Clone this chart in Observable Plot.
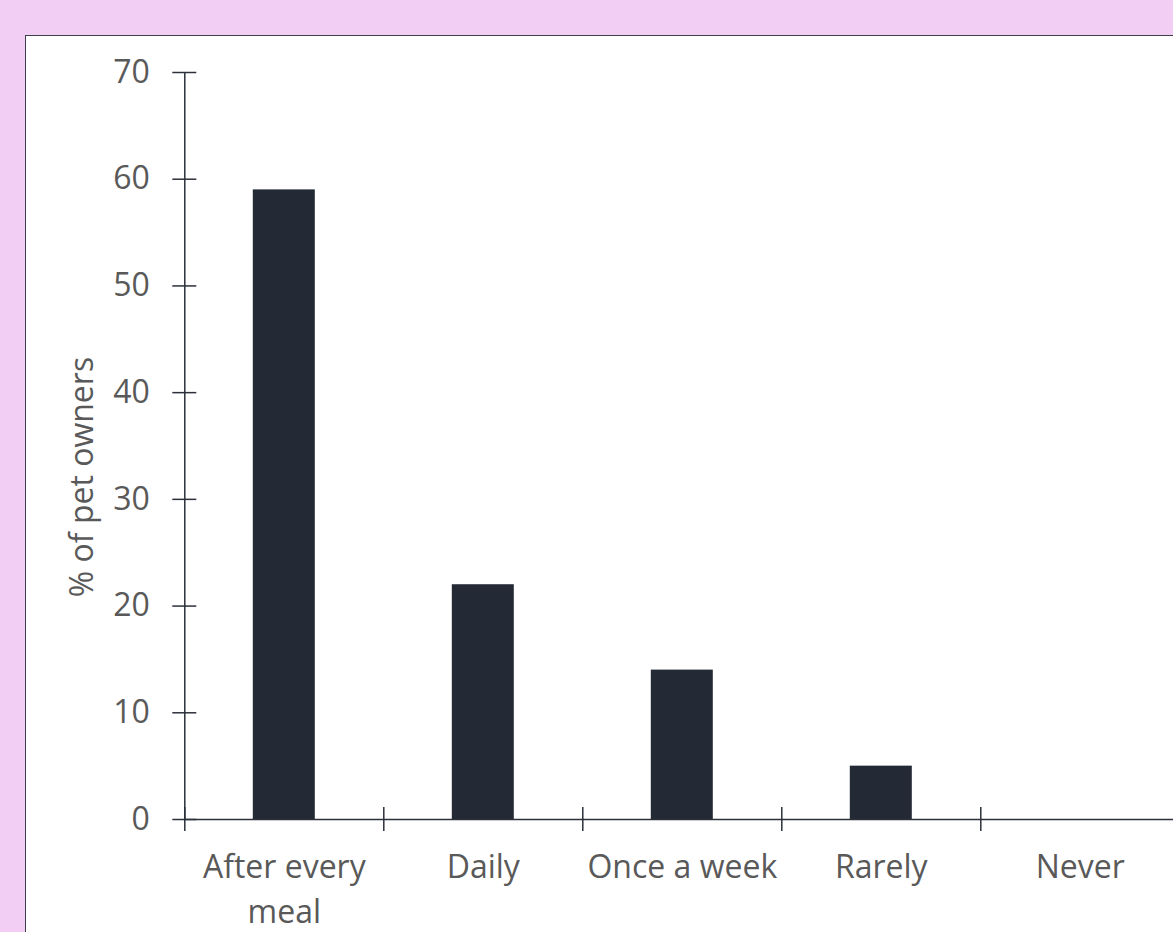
<!DOCTYPE html>
<html><head><meta charset="utf-8">
<script src="https://cdn.jsdelivr.net/npm/d3@7"></script>
<script src="https://cdn.jsdelivr.net/npm/@observablehq/plot@0.6"></script>
<style>
html,body{margin:0;padding:0;background:#f2cdf4;overflow:hidden;width:1173px;height:932px;}
#panel{position:absolute;left:24.5px;top:34.5px;width:1200px;height:1000px;background:#fff;border-left:1.5px solid #3a3f49;border-top:1.5px solid #3a3f49;}
#chart{position:absolute;left:0;top:0;}
</style></head><body>
<div id="panel"></div>
<div id="chart"></div>
<script>
const categories = ["After every\nmeal", "Daily", "Once a week", "Rarely", "Never"];
const values = [59, 22, 14, 5, 0];
const yTicks = [0, 10, 20, 30, 40, 50, 60, 70];
const yLabel = "% of pet owners";

const data = categories.map((c, i) => ({c, i, v: values[i]}));
const edges = d3.range(categories.length);

const ink = "#2b303a";
const txt = "#595959";

const plot = Plot.plot({
  width: 1173, height: 932,
  marginLeft: 184.3, marginRight: -6.3, marginTop: 72, marginBottom: 113,
  x: {type: "linear", domain: [0, categories.length], axis: null},
  y: {domain: [0, 70], axis: null},
  style: {background: "transparent", fontFamily: "'Open Sans', sans-serif", overflow: "visible"},
  marks: [
    Plot.rectY(data, {x1: d => d.i, x2: d => d.i + 1, y1: 0, y2: d => d.v, insetLeft: 68.5, insetRight: 68.5, fill: "#242a35"}),
    Plot.ruleY([0], {stroke: ink, strokeWidth: 1.5}),
    Plot.ruleX([0], {y1: 0, y2: 70, stroke: ink, strokeWidth: 1.5}),
    Plot.ruleY(yTicks, {y: d => d, x1: 0, x2: 0, insetLeft: -12, insetRight: -12, stroke: ink, strokeWidth: 1.5}),
    Plot.ruleX(edges, {x: d => d, y1: 0, y2: 0, insetTop: -12, insetBottom: -12, stroke: ink, strokeWidth: 1.5}),
    Plot.text(yTicks, {x: 0, y: d => d, text: d => String(d), dx: -35, textAnchor: "end", fontSize: 32, fill: txt}),
    Plot.text(data, {x: d => d.i + 0.5, y: 0, text: d => d.c, lineAnchor: "top", dy: 26, lineHeight: 1.42, fontSize: 32, fill: txt}),
    Plot.text([yLabel], {frameAnchor: "left", text: d => d, rotate: -90, textAnchor: "middle", dx: -101.8, dy: 31, fontSize: 32, fill: txt})
  ]
});
document.getElementById("chart").appendChild(plot);
</script>
</body></html>
